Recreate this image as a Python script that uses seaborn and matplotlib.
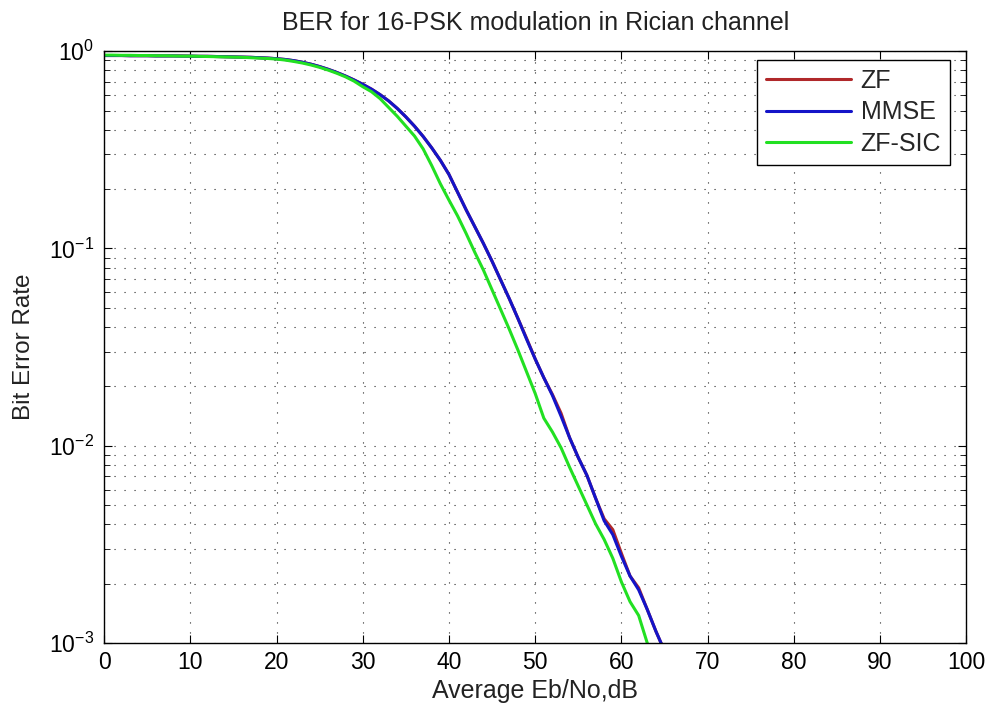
import numpy as np
import pandas as pd
import matplotlib
matplotlib.use("Agg")
import matplotlib.pyplot as plt
import seaborn as sns
from matplotlib.ticker import LogLocator, MultipleLocator, NullFormatter

# Eb/No axis (dB)
ebno_db = list(range(0, 67))

# log10 of bit error rate for each receiver
mmse_log_ber = [
    -0.022, -0.022, -0.022, -0.023, -0.023, -0.023, -0.024, -0.024, -0.024, -0.025,
    -0.025, -0.026, -0.026, -0.027, -0.028, -0.029, -0.030, -0.031, -0.033, -0.035,
    -0.038, -0.042, -0.048, -0.056, -0.066, -0.078, -0.092, -0.108, -0.126, -0.146,
    -0.168, -0.192, -0.220, -0.252, -0.290, -0.333, -0.380, -0.432, -0.490, -0.553,
    -0.625, -0.715, -0.805, -0.890, -0.975, -1.065, -1.160, -1.255, -1.355, -1.460,
    -1.560, -1.655, -1.745, -1.850, -1.960, -2.060, -2.150, -2.265, -2.380, -2.450,
    -2.560, -2.660, -2.730, -2.830, -2.940, -3.040, -3.140,
]
zf_log_ber = [
    -0.022, -0.022, -0.022, -0.023, -0.023, -0.023, -0.024, -0.024, -0.024, -0.024,
    -0.025, -0.026, -0.026, -0.027, -0.028, -0.029, -0.030, -0.031, -0.033, -0.035,
    -0.038, -0.042, -0.048, -0.056, -0.066, -0.078, -0.092, -0.108, -0.126, -0.146,
    -0.168, -0.192, -0.220, -0.252, -0.290, -0.333, -0.380, -0.432, -0.490, -0.553,
    -0.625, -0.715, -0.805, -0.890, -0.975, -1.065, -1.160, -1.255, -1.355, -1.455,
    -1.560, -1.655, -1.740, -1.835, -1.960, -2.060, -2.150, -2.265, -2.370, -2.425,
    -2.545, -2.660, -2.720, -2.830, -2.940, -3.040, -3.140,
]
zfsic_log_ber = [
    -0.020, -0.020, -0.021, -0.021, -0.022, -0.022, -0.023, -0.023, -0.024, -0.025,
    -0.025, -0.026, -0.027, -0.028, -0.029, -0.030, -0.031, -0.033, -0.035, -0.037,
    -0.040, -0.045, -0.052, -0.060, -0.070, -0.082, -0.096, -0.112, -0.130, -0.152,
    -0.180, -0.205, -0.240, -0.285, -0.330, -0.380, -0.430, -0.495, -0.580, -0.672,
    -0.755, -0.835, -0.925, -1.020, -1.110, -1.210, -1.310, -1.410, -1.515, -1.625,
    -1.735, -1.860, -1.930, -2.010, -2.110, -2.205, -2.300, -2.395, -2.475, -2.570,
    -2.690, -2.790, -2.860, -3.000, -3.100,
]

series_names = ["ZF", "MMSE", "ZF-SIC"]
series_logs = [zf_log_ber, mmse_log_ber, zfsic_log_ber]
colors = {"ZF": "#B0282A", "MMSE": "#1414C8", "ZF-SIC": "#22E022"}

rows = []
for name, logs in zip(series_names, series_logs):
    for x, lv in zip(ebno_db, logs):
        rows.append({"Eb/No": x, "BER": 10.0 ** lv, "Receiver": name})
df = pd.DataFrame(rows)

sns.set_style("ticks")
plt.rcParams["font.family"] = ["Liberation Sans", "DejaVu Sans"]
plt.rcParams["mathtext.fontset"] = "custom"
plt.rcParams["mathtext.rm"] = "Liberation Sans"

fig = plt.figure(figsize=(9.87, 7.11), dpi=100, facecolor="white")
ax = fig.add_axes([0.1055, 0.0955, 0.8735, 0.8325])

sns.lineplot(data=df, x="Eb/No", y="BER", hue="Receiver", hue_order=series_names,
             palette=colors, linewidth=2.2, ax=ax, legend=False, estimator=None,
             sort=False)

ax.set_yscale("log")
ax.set_xlim(0, 100)
ax.set_ylim(1e-3, 1)
ax.xaxis.set_major_locator(MultipleLocator(10))
ax.yaxis.set_major_locator(LogLocator(base=10, numticks=10))
ax.yaxis.set_minor_locator(LogLocator(base=10, subs=np.arange(2, 10), numticks=20))
ax.yaxis.set_minor_formatter(NullFormatter())

grid_style = dict(color="black", linestyle=(0, (1, 8)), linewidth=0.8, alpha=0.85)
ax.grid(True, which="major", axis="both", **grid_style)
ax.grid(True, which="minor", axis="y", **grid_style)

for s in ax.spines.values():
    s.set_visible(True)
    s.set_color("black")
    s.set_linewidth(1.0)
ax.tick_params(which="both", direction="in", top=True, right=True, colors="black",
               labelsize=16.5)
ax.tick_params(which="major", length=6)
ax.tick_params(which="minor", length=4)
ax.tick_params(axis="x", pad=6)
ax.tick_params(axis="y", pad=7)

text_color = "#222222"
ax.set_title("BER for 16-PSK modulation in Rician channel", fontsize=18,
             pad=15, color=text_color)
ax.set_xlabel("Average Eb/No,dB", fontsize=18, labelpad=3, color=text_color)
ax.set_ylabel("Bit Error Rate", fontsize=17.5, labelpad=10, color=text_color)

handles = [plt.Line2D([], [], color=colors[n], linewidth=2.2) for n in series_names]
leg = ax.legend(handles, series_names, loc="upper right",
                bbox_to_anchor=(950 / 987, 1 - 60 / 711),
                bbox_transform=fig.transFigure, borderaxespad=0.0,
                fontsize=18, handlelength=3.4, frameon=True, fancybox=False,
                borderpad=0.35, labelspacing=0.3, handletextpad=0.4)
leg.get_frame().set_edgecolor("black")
leg.get_frame().set_linewidth(1.0)
leg.get_frame().set_alpha(1.0)

fig.savefig("out.png", dpi=100, facecolor="white")
